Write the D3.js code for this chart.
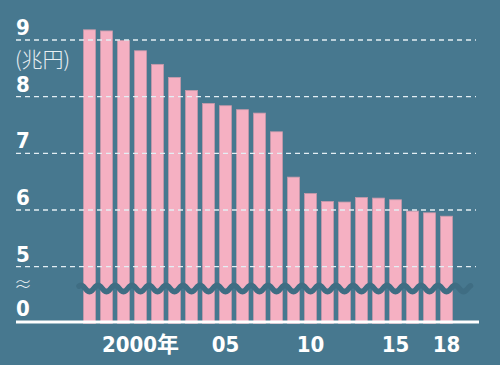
<!DOCTYPE html>
<html>
<head>
<meta charset="utf-8">
<script src="https://cdn.jsdelivr.net/npm/d3@7"></script>
<style>
  html, body { margin: 0; padding: 0; background: #47788f; }
  svg { display: block; }
</style>
</head>
<body>
<svg id="chart" width="500" height="365"></svg>
<script>
const years = [1997,1998,1999,2000,2001,2002,2003,2004,2005,2006,2007,2008,2009,2010,2011,2012,2013,2014,2015,2016,2017,2018];
const values = [9.18,9.16,8.99,8.81,8.57,8.34,8.11,7.88,7.84,7.77,7.71,7.38,6.58,6.29,6.15,6.14,6.22,6.21,6.18,5.98,5.95,5.89];
const yTicks = [5,6,7,8,9];
const xTickYears = [2000,2005,2010,2015,2018];
const xTickLabels = ["2000年","05","10","15","18"];
const unitLabel = "(兆円)";
const zeroLabel = "0";
const breakLabel = "≈";

const bg = "#47788f";
const numFont = "'Liberation Sans Narrow', 'DejaVu Sans Condensed', Roboto, sans-serif";
const svg = d3.select("#chart");
svg.append("rect").attr("width",500).attr("height",365).attr("fill",bg);

const x = d3.scaleBand().domain(years).range([81,455]).paddingInner(0.3).paddingOuter(0.15);
const y = d3.scaleLinear().domain([4,9]).range([323.3,40]);

// bars
svg.append("g").selectAll("rect").data(values).join("rect")
  .attr("x",(d,i)=>x(years[i]))
  .attr("y",d=>y(d))
  .attr("width",x.bandwidth())
  .attr("height",d=>y(4)-y(d))
  .attr("fill","#f5b0c2")
  .attr("stroke","#c79aab")
  .attr("stroke-width",0.8);

// gridlines
svg.append("g").selectAll("line").data(yTicks).join("line")
  .attr("x1",16).attr("x2",476)
  .attr("y1",d=>y(d)).attr("y2",d=>y(d))
  .attr("stroke","#e4eef4")
  .attr("stroke-width",1.3)
  .attr("stroke-dasharray","5,4");

// y labels
const txtCol = "#ffffff";
svg.append("g").selectAll("text").data(yTicks).join("text")
  .attr("x",16).attr("y",d=>y(d)-5)
  .attr("fill",txtCol)
  .attr("font-family",numFont)
  .attr("font-weight",700)
  .attr("font-size",22)
  .text(d=>d);

svg.append("text")
  .attr("x",15).attr("y",67)
  .attr("fill","#e8eff3")
  .attr("font-family","'Noto Sans CJK JP', sans-serif")
  .attr("font-weight",300)
  .attr("font-size",21)
  .text(unitLabel);

svg.append("text")
  .attr("x",16).attr("y",316)
  .attr("fill",txtCol)
  .attr("font-family",numFont)
  .attr("font-weight",700)
  .attr("font-size",22)
  .text(zeroLabel);

svg.append("text")
  .attr("x",14).attr("y",291)
  .attr("fill","#e8eff3")
  .attr("font-family","'Noto Sans CJK JP', sans-serif")
  .attr("font-weight",300)
  .attr("font-size",18)
  .text(breakLabel);

// wavy break
const step = x.step();
const gap0 = x(years[0]) - (step - x.bandwidth())/2;
const waveXs = d3.range(79, 471, 0.5);
const wave = d3.line().x(d=>d).y(d=>288.5 - 3.2*Math.cos(2*Math.PI*(d-gap0)/step));
svg.append("path")
  .attr("d",wave(waveXs))
  .attr("fill","none")
  .attr("stroke","#3f6d83")
  .attr("stroke-width",5.5)
  .attr("stroke-linecap","round");

// axis line
svg.append("line")
  .attr("x1",16).attr("x2",479)
  .attr("y1",322).attr("y2",322)
  .attr("stroke","#ffffff")
  .attr("stroke-width",3.2);

// x labels
svg.append("g").selectAll("text").data(xTickYears).join("text")
  .attr("x",d=>x(d)+x.bandwidth()/2)
  .attr("y",352)
  .attr("text-anchor","middle")
  .attr("fill",txtCol)
  .attr("font-family",numFont + ", 'Noto Sans CJK JP'")
  .attr("font-weight",700)
  .attr("font-size",22)
  .text((d,i)=>xTickLabels[i]);
</script>
</body>
</html>
